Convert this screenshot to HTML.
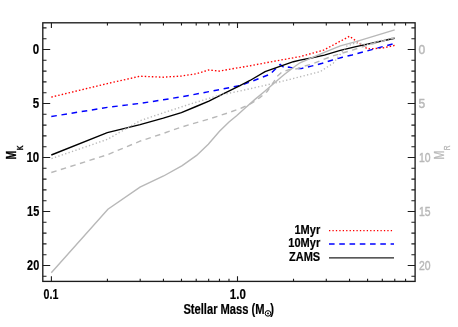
<!DOCTYPE html>
<html><head><meta charset="utf-8"><title>plot</title>
<style>
html,body{margin:0;padding:0;background:#fff;}
svg{display:block;font-family:"Liberation Sans",sans-serif;will-change:transform;opacity:0.999;}
</style></head><body>
<svg width="458" height="327" viewBox="0 0 458 327">
<rect width="458" height="327" fill="#fff"/>
<polyline points="51.3,97.1 107.3,83.6 140.1,76.2 163.3,77.2 181.4,76.0 196.1,73.8 208.6,70.0 219.4,71.1 237.4,67.9 250.0,65.8 270.0,62.0 290.0,58.4 300.0,56.6 323.5,50.2 349.5,36.3 367.4,48.9 382.2,48.1 394.7,45.4" fill="none" stroke="#ff0000" stroke-width="1.35" stroke-dasharray="1.5 2.05"/>
<polyline points="51.3,116.5 107.3,107.4 140.1,103.4 163.3,99.8 190.0,95.3 240.0,85.6 254.0,80.5 270.0,74.2 280.2,64.5 284.9,68.3 288.8,67.1 294.5,68.4 301.0,68.6 311.3,66.1 322.3,63.3 331.8,60.2 341.6,57.5 352.0,55.0 394.7,43.4" fill="none" stroke="#0000ff" stroke-width="1.45" stroke-dasharray="5.6 4.67"/>
<polyline points="51.3,155.0 107.3,132.6 140.1,124.6 163.3,118.2 181.4,112.6 196.1,106.5 208.9,101.2 224.2,93.4 240.0,85.7 245.8,82.5 250.0,80.5 265.1,71.6 293.4,61.7 300.0,60.1 310.0,58.2 324.4,55.1 340.3,50.4 356.0,46.6 394.7,38.2" fill="none" stroke="#000" stroke-width="1.4"/>
<polyline points="51.3,272.8 107.9,209.2 140.0,187.1 163.6,176.0 182.2,165.6 196.6,155.4 208.3,144.2 219.5,131.2 229.0,122.0 236.6,115.7 245.2,108.1 255.0,99.4 264.8,91.2 281.0,77.2 284.9,74.0 294.1,67.0 300.0,62.8 309.2,58.9 324.4,52.4 340.3,45.9 356.0,41.6 394.7,29.9" fill="none" stroke="#b8b8b8" stroke-width="1.4"/>
<polyline points="51.3,172.5 107.3,154.8 140.0,141.2 160.8,134.3 180.0,127.6 190.0,124.5 210.0,118.7 229.5,112.4 241.5,108.0 251.3,103.5 259.8,97.6 267.2,91.5 273.0,83.0 277.0,76.5 282.0,72.0 289.5,69.5 297.0,68.8 304.0,66.2 311.6,64.2 323.0,59.7 332.7,56.0 342.5,53.0 352.3,50.2 360.0,47.6 372.0,44.0 394.7,37.8" fill="none" stroke="#b8b8b8" stroke-width="1.4" stroke-dasharray="5.5 4.5"/>
<polyline points="51.5,158.6 107.3,139.4 140.1,120.7 163.3,112.8 191.0,103.8 220.0,95.0 240.0,91.0 270.0,84.2 290.0,79.4 310.0,74.2 320.3,71.6 324.4,68.9 333.4,63.0 346.6,46.2 355.2,43.1 362.5,43.6 366.0,45.0 372.6,42.7 381.8,40.4 394.7,37.5" fill="none" stroke="#b8b8b8" stroke-width="1.4" stroke-dasharray="1.3 2.3"/>
<rect x="42.8" y="22.8" width="372.3" height="258.59999999999997" fill="none" stroke="#1c1c1c" stroke-width="1.35"/>
<path d="M51.40,281.4v-5.2M51.40,22.8v5.2M107.42,281.4v-2.6M107.42,22.8v2.6M140.19,281.4v-2.6M140.19,22.8v2.6M163.44,281.4v-2.6M163.44,22.8v2.6M181.48,281.4v-2.6M181.48,22.8v2.6M196.21,281.4v-2.6M196.21,22.8v2.6M208.67,281.4v-2.6M208.67,22.8v2.6M219.47,281.4v-2.6M219.47,22.8v2.6M228.98,281.4v-2.6M228.98,22.8v2.6M237.50,281.4v-5.2M237.50,22.8v5.2M293.52,281.4v-2.6M293.52,22.8v2.6M326.29,281.4v-2.6M326.29,22.8v2.6M349.54,281.4v-2.6M349.54,22.8v2.6M367.58,281.4v-2.6M367.58,22.8v2.6M382.31,281.4v-2.6M382.31,22.8v2.6M394.77,281.4v-2.6M394.77,22.8v2.6M405.57,281.4v-2.6M405.57,22.8v2.6M42.8,27.90h3.7M415.1,27.90h-3.7M42.8,38.70h3.7M415.1,38.70h-3.7M42.8,49.50h7.4M415.1,49.50h-7.4M42.8,60.30h3.7M415.1,60.30h-3.7M42.8,71.10h3.7M415.1,71.10h-3.7M42.8,81.90h3.7M415.1,81.90h-3.7M42.8,92.70h3.7M415.1,92.70h-3.7M42.8,103.50h7.4M415.1,103.50h-7.4M42.8,114.30h3.7M415.1,114.30h-3.7M42.8,125.10h3.7M415.1,125.10h-3.7M42.8,135.90h3.7M415.1,135.90h-3.7M42.8,146.70h3.7M415.1,146.70h-3.7M42.8,157.50h7.4M415.1,157.50h-7.4M42.8,168.30h3.7M415.1,168.30h-3.7M42.8,179.10h3.7M415.1,179.10h-3.7M42.8,189.90h3.7M415.1,189.90h-3.7M42.8,200.70h3.7M415.1,200.70h-3.7M42.8,211.50h7.4M415.1,211.50h-7.4M42.8,222.30h3.7M415.1,222.30h-3.7M42.8,233.10h3.7M415.1,233.10h-3.7M42.8,243.90h3.7M415.1,243.90h-3.7M42.8,254.70h3.7M415.1,254.70h-3.7M42.8,265.50h7.4M415.1,265.50h-7.4M42.8,276.30h3.7M415.1,276.30h-3.7" stroke="#1c1c1c" stroke-width="1.1" fill="none"/>
<text transform="translate(39.2,54.3) scale(0.79,1)" text-anchor="end" font-size="14.6" font-weight="bold" fill="#000" stroke="#000" stroke-width="0.2" >0</text>
<text transform="translate(418.6,54.45) scale(0.89,1)" text-anchor="start" font-size="13.5" font-weight="normal" fill="#b8b8b8" stroke="#b8b8b8" stroke-width="0.45" >0</text>
<text transform="translate(39.2,108.3) scale(0.79,1)" text-anchor="end" font-size="14.6" font-weight="bold" fill="#000" stroke="#000" stroke-width="0.2" >5</text>
<text transform="translate(418.6,108.45) scale(0.89,1)" text-anchor="start" font-size="13.5" font-weight="normal" fill="#b8b8b8" stroke="#b8b8b8" stroke-width="0.45" >5</text>
<text transform="translate(39.2,162.3) scale(0.79,1)" text-anchor="end" font-size="14.6" font-weight="bold" fill="#000" stroke="#000" stroke-width="0.2" >10</text>
<text transform="translate(419.0,162.45) scale(0.77,1)" text-anchor="start" font-size="13.5" font-weight="normal" fill="#b8b8b8" stroke="#b8b8b8" stroke-width="0.45" >10</text>
<text transform="translate(39.2,216.3) scale(0.747,1)" text-anchor="end" font-size="14.6" font-weight="bold" fill="#000" stroke="#000" stroke-width="0.2" >15</text>
<text transform="translate(419.0,216.45) scale(0.77,1)" text-anchor="start" font-size="13.5" font-weight="normal" fill="#b8b8b8" stroke="#b8b8b8" stroke-width="0.45" >15</text>
<text transform="translate(39.2,270.3) scale(0.747,1)" text-anchor="end" font-size="14.6" font-weight="bold" fill="#000" stroke="#000" stroke-width="0.2" >20</text>
<text transform="translate(419.0,270.45) scale(0.77,1)" text-anchor="start" font-size="13.5" font-weight="normal" fill="#b8b8b8" stroke="#b8b8b8" stroke-width="0.45" >20</text>
<text transform="translate(50.900000000000006,299.1) scale(0.73,1)" text-anchor="middle" font-size="14.6" font-weight="bold" fill="#000" stroke="#000" stroke-width="0.2" >0.1</text>
<text transform="translate(237.8,299.0) scale(0.79,1)" text-anchor="middle" font-size="14.6" font-weight="bold" fill="#000" stroke="#000" stroke-width="0.2" >1.0</text>
<text transform="translate(183.4,313.75) scale(0.78,1)" text-anchor="start" font-size="14.3" font-weight="bold" fill="#000" stroke="#000" stroke-width="0.2" >Stellar Mass (M</text>
<circle cx="268.0" cy="313.4" r="2.8" fill="none" stroke="#000" stroke-width="1.0"/><circle cx="268.0" cy="313.4" r="0.9" fill="#000"/>
<text transform="translate(270.2,313.75) scale(0.78,1)" text-anchor="start" font-size="14.3" font-weight="bold" fill="#000" stroke="#000" stroke-width="0.2" >)</text>
<text transform="translate(320.2,233.95) scale(0.805,1)" text-anchor="end" font-size="13.7" font-weight="bold" fill="#000" stroke="#000" stroke-width="0.2" >1Myr</text>
<text transform="translate(320.2,247.45) scale(0.805,1)" text-anchor="end" font-size="13.7" font-weight="bold" fill="#000" stroke="#000" stroke-width="0.2" >10Myr</text>
<text transform="translate(320.2,260.85) scale(0.805,1)" text-anchor="end" font-size="13.7" font-weight="bold" fill="#000" stroke="#000" stroke-width="0.2" >ZAMS</text>
<line x1="329" x2="394" y1="230.6" y2="230.6" stroke="#ff0000" stroke-width="1.2" stroke-dasharray="1.3 2.13"/>
<line x1="329" x2="394" y1="244.0" y2="244.0" stroke="#0000ff" stroke-width="1.4" stroke-dasharray="5.6 4.66"/>
<line x1="329" x2="394" y1="257.8" y2="257.8" stroke="#222" stroke-width="1.2"/>
<text transform="translate(16.2,159.5) rotate(-90) scale(0.74,1)" font-size="14.2" font-weight="bold" fill="#000" stroke="#000" stroke-width="0.3">M<tspan font-size="9" dy="6.9" dx="0.6">K</tspan></text>
<text transform="translate(443.8,159.5) rotate(-90) scale(0.74,1)" font-size="14.2" font-weight="normal" fill="#b8b8b8" stroke="#b8b8b8" stroke-width="0.3">M<tspan font-size="9" dy="5.9" dx="0.6">R</tspan></text>
</svg>
</body></html>
